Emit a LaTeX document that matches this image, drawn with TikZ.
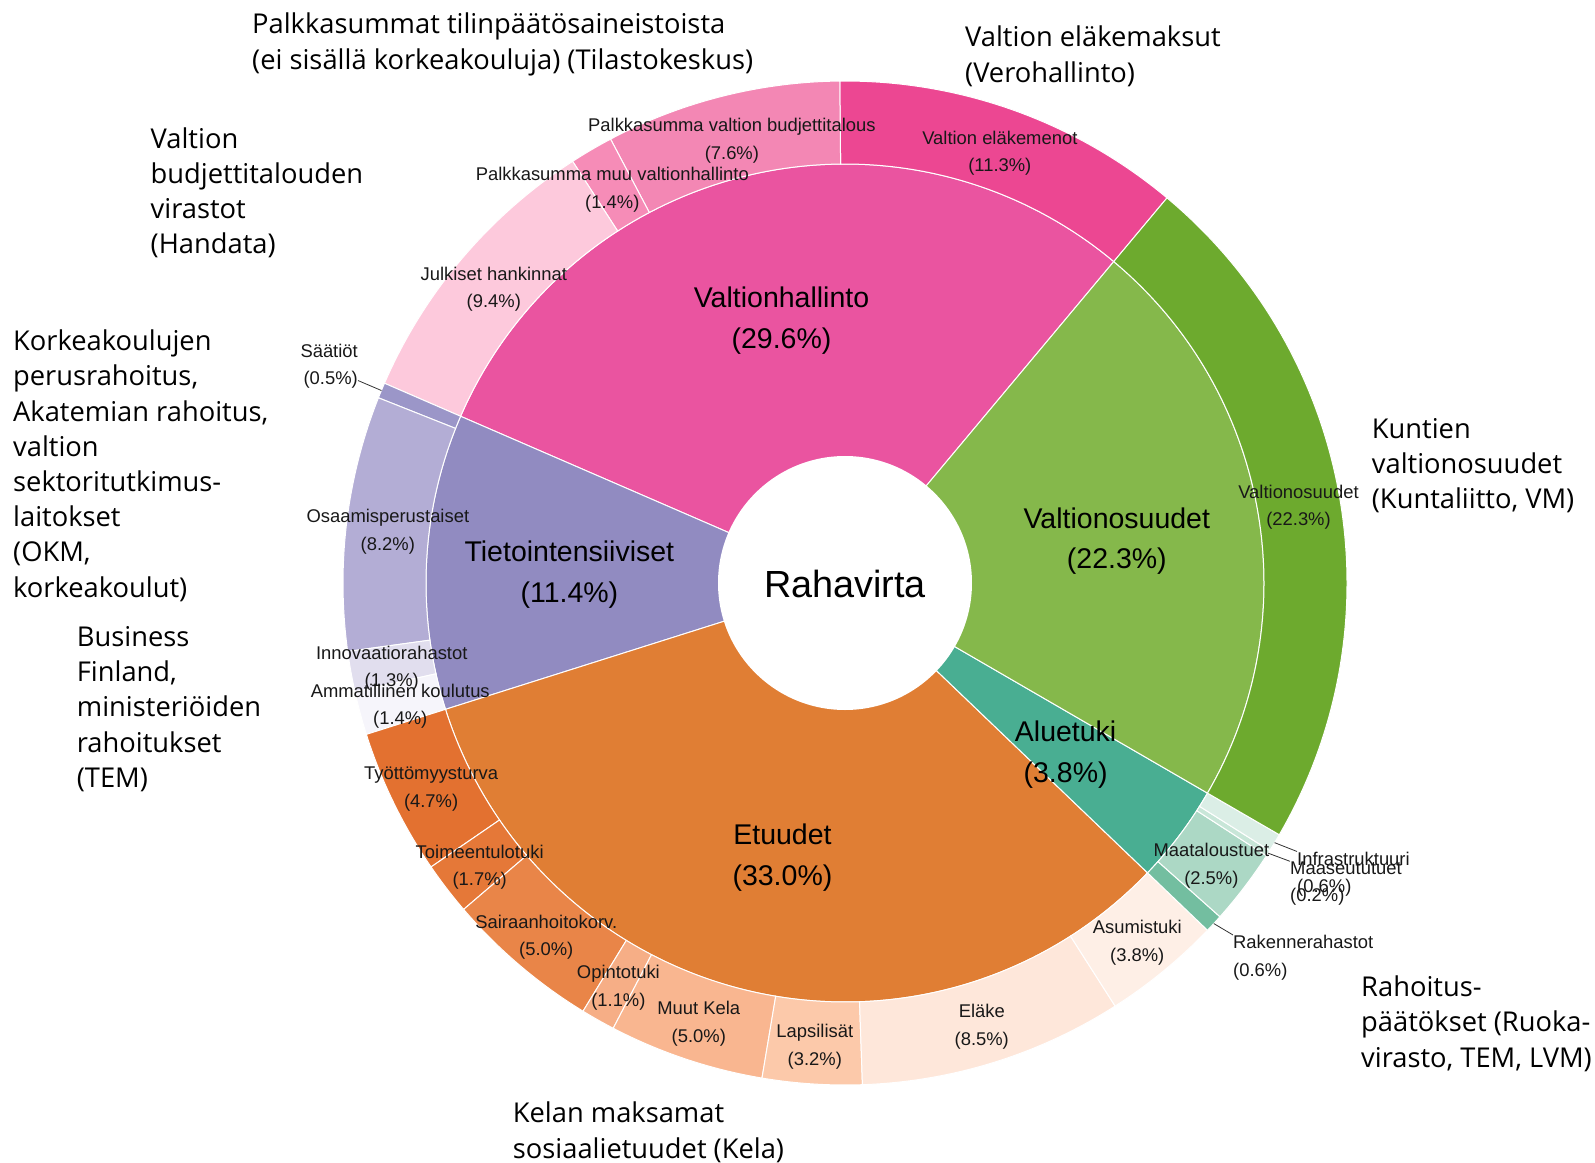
\documentclass[tikz,border=0pt]{standalone}
\usepackage{fontspec}
\setmainfont{Liberation Sans}
\newfontfamily\notefont{Open Sans}

\definecolor{vhin}{HTML}{EA54A0}
\definecolor{elakemenot}{HTML}{EC4792}
\definecolor{budj}{HTML}{F387B4}
\definecolor{muuvh}{HTML}{F68CB7}
\definecolor{julk}{HTML}{FDC9DC}
\definecolor{tiin}{HTML}{918BC1}
\definecolor{saat}{HTML}{9B96C8}
\definecolor{osaa}{HTML}{B3ADD5}
\definecolor{inno}{HTML}{E1DEEE}
\definecolor{amm}{HTML}{F6F5FB}
\definecolor{etin}{HTML}{E07E34}
\definecolor{tyot}{HTML}{E37130}
\definecolor{toim}{HTML}{E57838}
\definecolor{sair}{HTML}{E98548}
\definecolor{opin}{HTML}{F6AE86}
\definecolor{muutk}{HTML}{F9B690}
\definecolor{laps}{HTML}{FCC9AA}
\definecolor{elake}{HTML}{FEE7DA}
\definecolor{asum}{HTML}{FEEFE6}
\definecolor{alin}{HTML}{49AE92}
\definecolor{rake}{HTML}{73BEA0}
\definecolor{maat}{HTML}{ACD8C5}
\definecolor{maas}{HTML}{C8E6D8}
\definecolor{infr}{HTML}{DBEEE6}
\definecolor{voin}{HTML}{85B84B}
\definecolor{voout}{HTML}{6DAA2E}
\definecolor{lbltext}{HTML}{181818}

\tikzset{
  sector/.style={draw=white, line width=1pt},
  outlbl/.style={
    align=center,
    inner sep=0pt,
    text=lbltext,
    yshift=-4pt,
    font=\fontsize{18.4}{27.5}\selectfont},
  inlbl/.style={
    align=center,
    inner sep=0pt,
    yshift=-6pt,
    font=\fontsize{28.5}{40.7}\selectfont},
  note/.style={
    align=left,
    inner sep=0pt,
    anchor=north west,
    font=\notefont\fontsize{27.3}{35.2}\selectfont},
  leader/.style={draw=black!80, line width=0.8pt},
}

% ring part: start angle, end angle, inner radius, outer radius, colour
\newcommand{\ringpart}[5]{%
  \filldraw[sector, fill=#5] (#1:#3) arc[start angle=#1, end angle=#2, radius=#3]
    -- (#2:#4) arc[start angle=#2, end angle=#1, radius=#4] -- cycle;}

\begin{document}
\begin{tikzpicture}[x=1pt, y=1pt]
\useasboundingbox (-845,-579) rectangle (750,583);

% inner ring
\ringpart{50.1}{156.55}{0}{419}{vhin}
\ringpart{156.55}{197.55}{0}{419}{tiin}
\ringpart{197.55}{316.23}{0}{419}{etin}
\ringpart{316.23}{329.9}{0}{419}{alin}
\ringpart{329.9}{410.1}{0}{419}{voin}

% outer ring
\ringpart{50.1}{90.6}{419}{502}{elakemenot}
\ringpart{90.6}{117.84}{419}{502}{budj}
\ringpart{117.84}{122.86}{419}{502}{muuvh}
\ringpart{122.86}{156.55}{419}{502}{julk}
\ringpart{156.55}{158.35}{419}{502}{saat}
\ringpart{158.35}{187.84}{419}{502}{osaa}
\ringpart{187.84}{192.52}{419}{502}{inno}
\ringpart{192.52}{197.55}{419}{502}{amm}
\ringpart{197.55}{214.45}{419}{502}{tyot}
\ringpart{214.45}{220.56}{419}{502}{toim}
\ringpart{220.56}{238.54}{419}{502}{sair}
\ringpart{238.54}{242.5}{419}{502}{opin}
\ringpart{242.5}{260.48}{419}{502}{muutk}
\ringpart{260.48}{271.99}{419}{502}{laps}
\ringpart{271.99}{302.56}{419}{502}{elake}
\ringpart{302.56}{316.23}{419}{502}{asum}
\ringpart{316.23}{318.33}{419}{502}{rake}
\ringpart{318.33}{327.09}{419}{502}{maat}
\ringpart{327.09}{327.79}{419}{502}{maas}
\ringpart{327.79}{329.9}{419}{502}{infr}
\ringpart{329.9}{410.1}{419}{502}{voout}

\fill[white] (0,0) circle[radius=127];
\node[font=\fontsize{37.8}{44}\selectfont, inner sep=0pt] (center) at (0,-1) {Rahavirta};

% inner labels
\node[inlbl] (valtionhallinto) at (103.3:276) {Valtionhallinto\\(29.6\%)};
\node[inlbl] (tietointensiiviset) at (177.05:276) {Tietointensiiviset\\(11.4\%)};
\node[inlbl] (etuudet) at (256.9:276) {Etuudet\\(33.0\%)};
\node[inlbl] (aluetuki) at (323.07:276) {Aluetuki\\(3.8\%)};
\node[inlbl] (valtionosuudet) at (10:276) {Valtionosuudet\\(22.3\%)};

% outer labels
\node[outlbl] (elakemenotlbl) at (70.35:460.5) {Valtion eläkemenot\\(11.3\%)};
\node[outlbl] (budjlbl) at (104.22:460.5) {Palkkasumma valtion budjettitalous\\(7.6\%)};
\node[outlbl] (muulbl) at (120.35:460.5) {Palkkasumma muu valtionhallinto\\(1.4\%)};
\node[outlbl] (julklbl) at (139.7:460.5) {Julkiset hankinnat\\(9.4\%)};
\node[outlbl] (osaalbl) at (173.1:460.5) {Osaamisperustaiset\\(8.2\%)};
\node[outlbl] (innolbl) at (190.18:460.5) {Innovaatiorahastot\\(1.3\%)};
\node[outlbl] (ammlbl) at (195.03:460.5) {Ammatillinen koulutus\\(1.4\%)};
\node[outlbl] (tyotlbl) at (206.0:460.5) {Työttömyysturva\\(4.7\%)};
\node[outlbl] (toimlbl) at (217.5:460.5) {Toimeentulotuki\\(1.7\%)};
\node[outlbl] (sairlbl) at (229.55:460.5) {Sairaanhoitokorv.\\(5.0\%)};
\node[outlbl] (opinlbl) at (240.52:460.5) {Opintotuki\\(1.1\%)};
\node[outlbl] (muutlbl) at (251.49:460.5) {Muut Kela\\(5.0\%)};
\node[outlbl] (lapslbl) at (266.24:460.5) {Lapsilisät\\(3.2\%)};
\node[outlbl] (elakelbl) at (287.28:460.5) {Eläke\\(8.5\%)};
\node[outlbl] (asumlbl) at (309.4:460.5) {Asumistuki\\(3.8\%)};
\node[outlbl] (maatlbl) at (322.71:460.5) {Maataloustuet\\(2.5\%)};
\node[outlbl] (volbl) at (10:460.5) {Valtionosuudet\\(22.3\%)};

% labels outside the ring
\coordinate (saattip) at (157.45:502);
\coordinate (infrtip) at (328.85:502);
\coordinate (maastip) at (327.44:502);
\coordinate (raketip) at (317.28:502);
\node[outlbl, yshift=4pt, align=right, anchor=east] (saatlbl) at (-487,217) {Säätiöt\\(0.5\%)};
\node[outlbl, yshift=4pt, align=left, anchor=west] (infrlbl) at (452,-291) {Infrastruktuuri\\(0.6\%)};
\node[outlbl, yshift=4pt, align=left, anchor=west] (maaslbl) at (445,-300.5) {Maaseututuet\\(0.2\%)};
\node[outlbl, yshift=4pt, align=left, anchor=west] (rakelbl) at (388,-374.5) {Rakennerahastot\\(0.6\%)};
\draw[leader] ([yshift=8pt]saatlbl.south east) -- (saattip);
\draw[leader] (infrtip) -- (infrlbl.north west);
\draw[leader] (maastip) -- (maaslbl.north west);
\draw[leader] (raketip) -- (rakelbl.north west);

% sources
\node[note] (palkkasummat) at (-593,570) {Palkkasummat tilinpäätösaineistoista\\(ei sisällä korkeakouluja) (Tilastokeskus)};
\node[note] (elakemaksut) at (120,557) {Valtion eläkemaksut\\(Verohallinto)};
\node[note] (virastot) at (-694.5,455.6) {Valtion\\budjettitalouden\\virastot\\(Handata)};
\node[note] (korkeakoulut) at (-832,253.3) {Korkeakoulujen\\perusrahoitus,\\Akatemian rahoitus,\\valtion\\sektoritutkimus-\\laitokset\\(OKM,\\korkeakoulut)};
\node[note] (businessfinland) at (-768.3,-43.3) {Business\\Finland,\\ministeriöiden\\rahoitukset\\(TEM)};
\node[note] (kuntaliitto) at (526.7,165) {Kuntien\\valtionosuudet\\(Kuntaliitto, VM)};
\node[note] (ruokavirasto) at (516,-392.7) {Rahoitus-\\päätökset (Ruoka-\\virasto, TEM, LVM)};
\node[note] (kela) at (-332.3,-519) {Kelan maksamat\\sosiaalietuudet (Kela)};

\end{tikzpicture}
\end{document}
